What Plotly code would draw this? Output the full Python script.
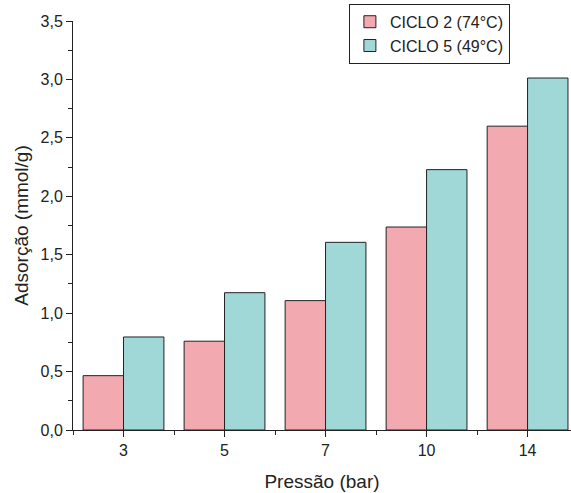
import plotly.graph_objects as go

categories = ["3", "5", "7", "10", "14"]
ciclo2 = [0.465, 0.76, 1.107, 1.737, 2.60]
ciclo5 = [0.796, 1.175, 1.606, 2.228, 3.012]
series_names = ["CICLO 2 (74°C)", "CICLO 5 (49°C)"]
y_ticks = [0, 0.5, 1.0, 1.5, 2.0, 2.5, 3.0, 3.5]

xpos = list(range(len(categories)))

fig = go.Figure()
fig.add_trace(go.Bar(x=xpos, y=ciclo2, name=series_names[0],
                     marker=dict(color="#F2AAB0", line=dict(color="#222222", width=1))))
fig.add_trace(go.Bar(x=xpos, y=ciclo5, name=series_names[1],
                     marker=dict(color="#A0D8D8", line=dict(color="#222222", width=1))))

font_family = "Liberation Sans, Arial, sans-serif"
fig.update_layout(
    width=571, height=493,
    margin=dict(l=73, r=0, t=21, b=63),
    plot_bgcolor="white", paper_bgcolor="white",
    barmode="group", bargap=0.2, bargroupgap=0,
    separators=", ",
    font=dict(family=font_family, color="#222222"),
    showlegend=True,
    legend=dict(x=0.554, y=1.042, xanchor="left", yanchor="top",
                bordercolor="#222222", borderwidth=1, bgcolor="white",
                font=dict(size=16, family=font_family), tracegroupgap=0,
                itemwidth=30),
    xaxis=dict(
        range=[-0.5, 4.43], tickvals=xpos, ticktext=categories,
        showline=True, linecolor="#222222", linewidth=1,
        ticks="outside", ticklen=6, tickcolor="#222222",
        minor=dict(ticks="outside", ticklen=4, dtick=0.5, tick0=-0.5, tickcolor="#222222"),
        showgrid=False, zeroline=False, automargin=False,
        tickfont=dict(size=16),
        title=dict(text="Pressão (bar)", font=dict(size=19), standoff=16),
    ),
    yaxis=dict(
        range=[0, 3.5], tickvals=y_ticks, tickformat=".1f",
        showline=True, linecolor="#222222", linewidth=1,
        ticks="outside", ticklen=6, tickcolor="#222222",
        minor=dict(ticks="outside", ticklen=4, dtick=0.25, tick0=0, tickcolor="#222222"),
        showgrid=False, zeroline=False, automargin=False,
        tickfont=dict(size=16),
        title=dict(text="Adsorção (mmol/g)", font=dict(size=19), standoff=6),
    ),
)

fig.write_html("out.html", config={"displayModeBar": False},
               post_script="document.body.style.margin='0';document.body.style.overflow='hidden';")
